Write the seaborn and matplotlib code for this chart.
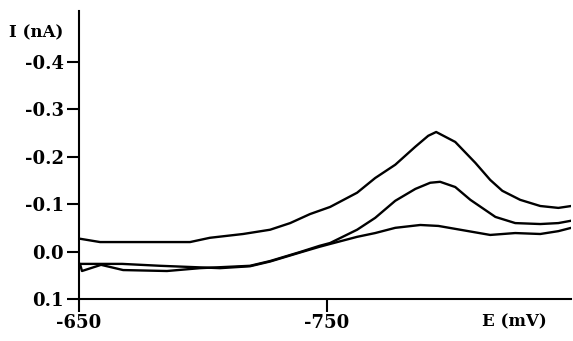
import numpy as np
import pandas as pd
import matplotlib
matplotlib.use("Agg")
import matplotlib.pyplot as plt
import seaborn as sns

# Voltammogram traces (E in mV, I in nA)
top_e = [-650.4, -658.5, -694.8, -702.8, -716.2, -727.1, -735.2, -743.2, -751.3,
         -762.2, -769.5, -777.6, -785.7, -790.9, -794.1, -801.8, -809.9, -815.9,
         -820.8, -828.0, -836.1, -843.4, -848.6]
top_i = [-0.027, -0.020, -0.020, -0.029, -0.037, -0.046, -0.060, -0.079, -0.094,
         -0.124, -0.155, -0.183, -0.221, -0.244, -0.252, -0.231, -0.187, -0.151,
         -0.128, -0.109, -0.096, -0.092, -0.096]

mid_e = [-650.4, -651.2, -658.9, -667.8, -685.5, -698.8, -719.0, -727.1, -739.2,
         -747.0, -751.3, -762.2, -769.5, -777.6, -785.7, -791.7, -795.7, -801.8,
         -807.9, -818.0, -826.0, -836.1, -843.4, -848.6]
mid_i = [0.026, 0.041, 0.028, 0.039, 0.041, 0.035, 0.030, 0.020, 0.001,
         -0.012, -0.018, -0.046, -0.071, -0.107, -0.132, -0.145, -0.147, -0.136,
         -0.109, -0.073, -0.060, -0.058, -0.060, -0.065]

low_e = [-650.4, -667.4, -682.7, -706.9, -719.0, -727.1, -739.2, -747.0, -751.3,
         -762.2, -769.5, -777.6, -787.7, -795.0, -803.8, -815.9, -826.0, -836.1,
         -843.4, -848.6]
low_i = [0.026, 0.026, 0.030, 0.035, 0.031, 0.021, 0.002, -0.010, -0.016,
         -0.031, -0.039, -0.050, -0.056, -0.054, -0.046, -0.035, -0.039, -0.037,
         -0.043, -0.050]

x_ticks = [-650, -750]
y_ticks = [-0.4, -0.3, -0.2, -0.1, 0.0, 0.1]
y_tick_labels = ["-0.4", "-0.3", "-0.2", "-0.1", "0.0", "0.1"]

df = pd.concat([
    pd.DataFrame({"E": top_e, "I": top_i, "curve": "top"}),
    pd.DataFrame({"E": mid_e, "I": mid_i, "curve": "mid"}),
    pd.DataFrame({"E": low_e, "I": low_i, "curve": "low"}),
], ignore_index=True)

sns.set_style("ticks")
plt.rcParams["font.family"] = ["DejaVu Serif"]
plt.rcParams["font.weight"] = "bold"
plt.rcParams["text.color"] = "black"

fig = plt.figure(figsize=(5.73, 3.41), dpi=100)
ax = fig.add_axes([79 / 573, 1 - 299 / 341, (571 - 79) / 573, (299 - 11) / 341])

sns.lineplot(data=df, x="E", y="I", hue="curve", units="curve", estimator=None,
             sort=False, palette={"top": "black", "mid": "black", "low": "black"},
             linewidth=1.7, legend=False, ax=ax)

ax.set_xlim(-650, -848.5)
ax.set_ylim(0.1, -0.507)
ax.set_xticks(x_ticks)
ax.set_xticklabels([str(v) for v in x_ticks])
ax.set_yticks(y_ticks)
ax.set_yticklabels(y_tick_labels)
ax.set_xlabel("")
ax.set_ylabel("")
sns.despine(ax=ax)
for s in ["left", "bottom"]:
    ax.spines[s].set_linewidth(1.5)
    ax.spines[s].set_color("black")
ax.tick_params(axis="both", direction="out", length=9, width=1.5, colors="black",
               labelsize=13, pad=2)
for lab in ax.get_xticklabels() + ax.get_yticklabels():
    lab.set_fontweight("bold")

fig.text(9 / 573, 1 - 33 / 341, "I (nA)", fontsize=12, fontweight="bold",
         color="black", ha="left", va="center")
fig.text(514 / 573, 1 - 322 / 341, "E (mV)", fontsize=12, fontweight="bold",
         color="black", ha="center", va="center")

fig.savefig("out.png", dpi=100)
